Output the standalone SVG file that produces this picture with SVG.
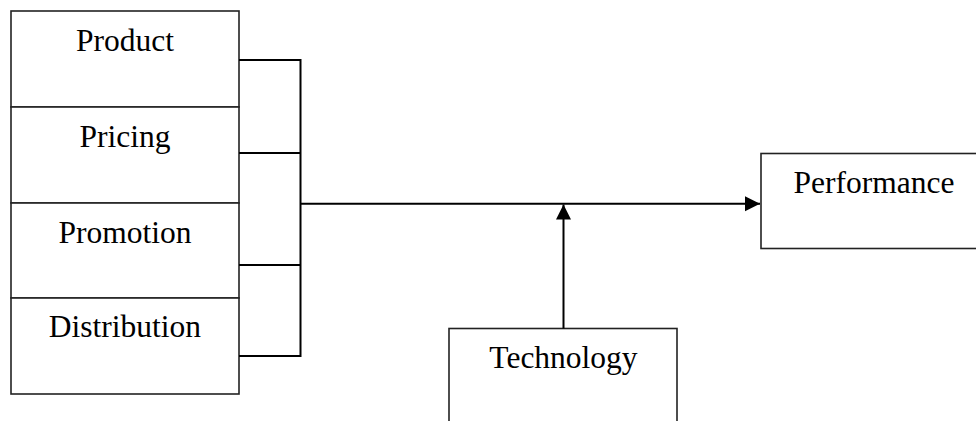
<svg xmlns="http://www.w3.org/2000/svg" width="976" height="421" viewBox="0 0 976 421">
<style>
.box{fill:#fff;stroke:#222;stroke-width:1.6}
.lbl{font-family:"Liberation Serif","Times New Roman",serif;font-size:31.5px;fill:#000;text-anchor:middle}
.con{fill:none;stroke:#000;stroke-width:2}
</style>
<defs>
<marker id="arr" markerUnits="userSpaceOnUse" markerWidth="16" markerHeight="16" viewBox="0 0 16 16" refX="15" refY="8" orient="auto">
<path d="M0,0.5 L15,8 L0,15.5 Z" fill="#000"/>
</marker>
</defs>
<rect width="976" height="421" fill="#fff"/>
<g id="product"><rect class="box" x="11" y="11" width="228" height="96"/><text class="lbl" x="125" y="50.5">Product</text></g>
<g id="pricing"><rect class="box" x="11" y="107" width="228" height="96"/><text class="lbl" x="125" y="146.5">Pricing</text></g>
<g id="promotion"><rect class="box" x="11" y="203" width="228" height="95"/><text class="lbl" x="125" y="242.5">Promotion</text></g>
<g id="distribution"><rect class="box" x="11" y="298" width="228" height="96"/><text class="lbl" x="125" y="336.5">Distribution</text></g>
<g id="performance"><rect class="box" x="761" y="153.5" width="230" height="95"/><text class="lbl" x="874" y="192.5">Performance</text></g>
<g id="technology"><rect class="box" x="449" y="328.5" width="228" height="110"/><text class="lbl" x="563.5" y="367.5">Technology</text></g>
<g id="connectors">
<path class="con" d="M239,60 H300.5 V356 H239 M239,153 H300.5 M239,265 H300.5"/>
<path class="con" d="M300.5,203.8 H760" marker-end="url(#arr)"/>
<path class="con" d="M563.5,328.5 V204.5" marker-end="url(#arr)"/>
</g>
</svg>
